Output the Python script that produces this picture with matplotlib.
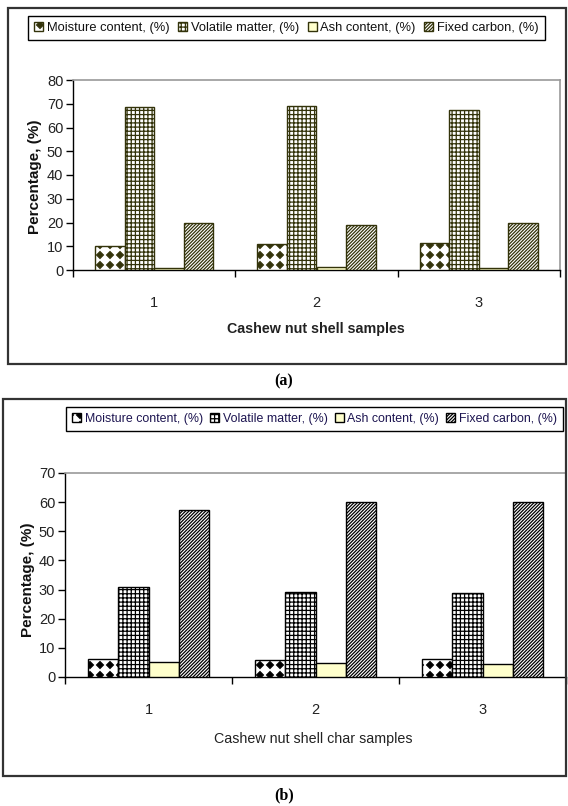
import numpy as np
import matplotlib
matplotlib.use('Agg')
import matplotlib.pyplot as plt
from matplotlib import hatch as mhatch
from matplotlib.path import Path
from matplotlib.patches import Rectangle
import warnings
warnings.filterwarnings('ignore')

# ---------------- data ----------------
samples = ['1', '2', '3']
series = ['Moisture content, (%)', 'Volatile matter, (%)',
          'Ash content, (%)', 'Fixed carbon, (%)']
raw_moisture = [10.2, 10.8, 11.5]
raw_volatile = [68.5, 69.0, 67.4]
raw_ash = [1.0, 1.1, 1.0]
raw_fixed = [19.8, 18.9, 19.9]
char_moisture = [6.2, 5.8, 6.2]
char_volatile = [30.8, 29.0, 28.7]
char_ash = [5.1, 4.7, 4.5]
char_fixed = [57.3, 60.0, 60.0]
raw_yticks = [0, 10, 20, 30, 40, 50, 60, 70, 80]
char_yticks = [0, 10, 20, 30, 40, 50, 60, 70]


# custom filled-diamond hatch ('d')
class DiamondHatch(mhatch.HatchPatternBase):
    def __init__(self, hatch, density):
        self.n = hatch.count('d') * 5
        self.num_vertices = (self.n + 1) ** 2 * 5 if self.n else 0

    def set_vertices_and_codes(self, vertices, codes):
        n = self.n
        h = 0.34 / n
        base = np.array([[0, -h], [h, 0], [0, h], [-h, 0], [0, -h]])
        bc = [Path.MOVETO, Path.LINETO, Path.LINETO, Path.LINETO, Path.CLOSEPOLY]
        k = 0
        for i in range(n + 1):
            for j in range(n + 1):
                vertices[k:k + 5] = base + [i / n, (j + 0.5) / n]
                codes[k:k + 5] = bc
                k += 5


mhatch._hatch_types.append(DiamondHatch)

plt.rcParams['hatch.linewidth'] = 0.9
FONT = ['Liberation Sans', 'DejaVu Sans']
plt.rcParams['font.family'] = FONT

W, H = 568, 806
fig = plt.figure(figsize=(W / 100, H / 100), dpi=100)


def fx(x):
    return x / W


def fy(y):
    return 1 - y / H


def make_panel(box, axrect, vals, yticks, ylim, colors, xlabel, xlabel_bold,
               ylab_pos, xlab_pos, legbox, caption, cap_pos, legend_color,
               legend_size):
    # outer box
    l, t, r, b = box
    fig.patches.append(Rectangle((fx(l), fy(b)), (r - l) / W, (b - t) / H,
                                 transform=fig.transFigure, fill=False,
                                 edgecolor='#333333', lw=1.6))
    al, at, ar, ab = axrect
    ax = fig.add_axes([fx(al), fy(ab), (ar - al) / W, (ab - at) / H])
    x = np.arange(len(samples))
    w = 0.1825
    hatches = ['dd', '++++', None, '//////////']
    faces = ['white', 'white', '#FFFFCC', 'white']
    edge = colors
    handles = []
    for k, v in enumerate(vals):
        bars = ax.bar(x + (k - 1.5) * w, v, w, facecolor=faces[k],
                      edgecolor=edge, hatch=hatches[k], lw=1.0,
                      label=series[k], zorder=3)
        handles.append(bars)
    ax.set_xlim(-0.5, len(samples) - 0.5)
    ax.set_ylim(*ylim)
    ax.set_yticks(yticks)
    ax.set_yticklabels([str(v) for v in yticks])
    ax.set_xticks(np.arange(-0.5, len(samples)), labels=[''] * (len(samples) + 1))
    ax.set_xticks(x, labels=samples, minor=True)
    ax.tick_params(axis='x', which='major', direction='out', length=5,
                   width=1, color='black')
    ax.tick_params(axis='x', which='minor', length=0, pad=19, labelsize=10.5,
                   labelcolor='#222222')
    ax.tick_params(axis='y', direction='out', length=5, width=1, pad=2,
                   labelsize=10.5, labelcolor='#222222')
    for s in ['top', 'right']:
        ax.spines[s].set_color('#9a9a9a')
        ax.spines[s].set_linewidth(1.2)
    for s in ['left', 'bottom']:
        ax.spines[s].set_color('black')
        ax.spines[s].set_linewidth(1.0)
    fig.text(fx(ylab_pos[0]), fy(ylab_pos[1]), 'Percentage, (%)', rotation=90,
             ha='center', va='center', fontsize=11, fontweight='bold',
             color='#111111')
    fig.text(fx(xlab_pos[0]), fy(xlab_pos[1]), xlabel, ha='center',
             va='center', fontsize=10.3,
             fontweight='bold' if xlabel_bold else 'normal', color='#222222')
    fig.text(fx(cap_pos[0]), fy(cap_pos[1]), caption, ha='center',
             va='center', fontsize=11.5, fontweight='bold',
             family=['Liberation Serif', 'DejaVu Serif'])
    ll, lt, lr, lb = legbox
    leg = fig.legend(handles=handles, labels=series, ncol=4, mode='expand',
                     loc='center',
                     bbox_to_anchor=(fx(ll), fy(lb), (lr - ll) / W, (lb - lt) / H),
                     bbox_transform=fig.transFigure, fontsize=legend_size,
                     handlelength=0.7, handleheight=0.7, handletextpad=0.3,
                     columnspacing=0.4, borderpad=0.5, borderaxespad=0,
                     fancybox=False, framealpha=1, edgecolor='black',
                     labelcolor=legend_color)
    leg.get_frame().set_linewidth(1.0)
    return ax


make_panel(box=(8, 8, 566, 364), axrect=(73, 80, 560, 270),
           vals=[raw_moisture, raw_volatile, raw_ash, raw_fixed],
           yticks=raw_yticks, ylim=(0, 80), colors='#33330a',
           xlabel='Cashew nut shell samples', xlabel_bold=True,
           ylab_pos=(35, 177), xlab_pos=(316, 329),
           legbox=(28, 12, 545, 44), caption='(a)', cap_pos=(284, 381),
           legend_color='#111111', legend_size=9.3)

make_panel(box=(3, 399, 566, 776), axrect=(65, 473, 566, 677),
           vals=[char_moisture, char_volatile, char_ash, char_fixed],
           yticks=char_yticks, ylim=(0, 70), colors='black',
           xlabel='Cashew nut shell char samples', xlabel_bold=False,
           ylab_pos=(28, 580), xlab_pos=(313, 739),
           legbox=(66, 403, 563, 435), caption='(b)', cap_pos=(284, 795),
           legend_color='#1c1450', legend_size=8.9)

fig.savefig('out.png', dpi=100)
